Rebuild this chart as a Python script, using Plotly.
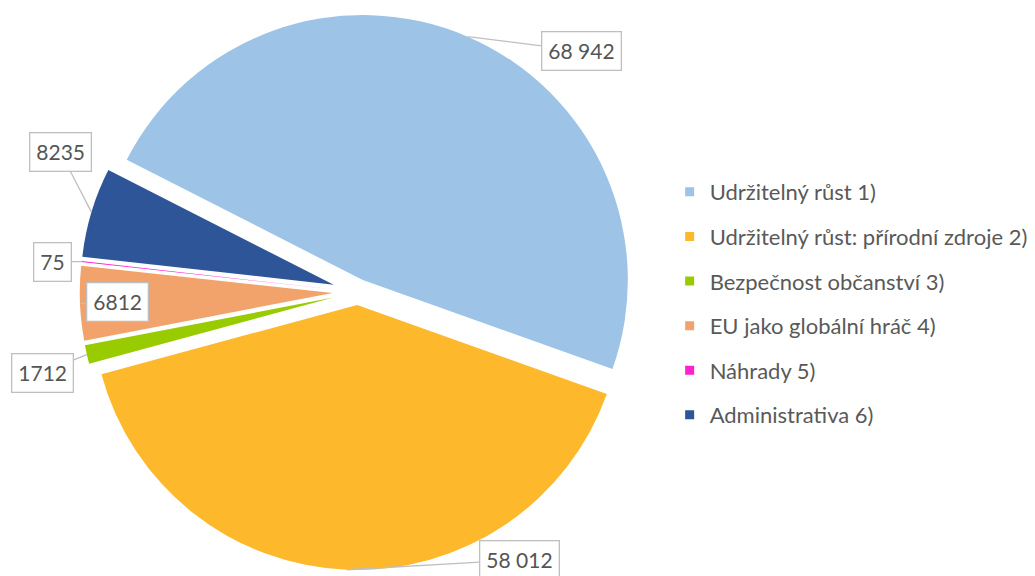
import math
import plotly.graph_objects as go

# ---- data ----
categories = [
    "Udržitelný růst 1)",
    "Udržitelný růst: přírodní zdroje 2)",
    "Bezpečnost občanství 3)",
    "EU jako globální hráč 4)",
    "Náhrady 5)",
    "Administrativa 6)",
]
values = [68942, 58012, 1712, 6812, 75, 8235]

# ---- style ----
colors = ["#9DC3E6", "#FDB82C", "#99CC00", "#F2A36C", "#FF21CF", "#2E5597"]
layer = [0, 0, 1, 1, 1, 1]          # which pie layer draws each slice
layer_pull = [0.049, 0.099]         # explosion per layer (fraction of radius)
label_offsets = [(114, 14), (173, -10), (-44, 18), (38, -1), (-29, 0), (-31, -60)]
ROTATION = -63
W, H = 1035, 576
DOM_X = [0.0770, 0.6142]
DOM_Y = [0.0105, 0.9757]
FONT = "Lato, 'Open Sans', sans-serif"
TRANSPARENT = "rgba(0,0,0,0)"


def fmt(v):
    return f"{v:,}".replace(",", " ") if v >= 10000 else str(v)


fig = go.Figure()
for li, lp in enumerate(layer_pull):
    fig.add_trace(go.Pie(
        labels=categories,
        values=values,
        sort=False,
        direction="clockwise",
        rotation=ROTATION,
        pull=[lp] * len(values),
        marker=dict(colors=[c if l == li else TRANSPARENT for c, l in zip(colors, layer)],
                    line=dict(width=0)),
        textinfo="none",
        hoverinfo="skip" if li else "label+value+percent",
        showlegend=False,
        domain=dict(x=DOM_X, y=DOM_Y),
    ))

# legend entries (one group each so spacing can be set)
for i, (cat, col) in enumerate(zip(categories, colors)):
    fig.add_trace(go.Scatter(
        x=[None], y=[None], mode="markers", name=cat,
        legendgroup=f"g{i}",
        marker=dict(symbol="square", size=9, color=col),
        hoverinfo="skip",
    ))

# geometry of the pie as plotly lays it out (for the data-label callouts)
box_w = W * (DOM_X[1] - DOM_X[0])
box_h = H * (DOM_Y[1] - DOM_Y[0])
cx = W * (DOM_X[0] + DOM_X[1]) / 2
cy = H * (1 - DOM_Y[0]) - box_h / 2
total = sum(values)
start = math.radians(ROTATION)
acc = 0.0
for v, l, (ax, ay) in zip(values, layer, label_offsets):
    p = layer_pull[l]
    r = min(box_w, box_h) / 2 / (1 + p)
    mid = start + 2 * math.pi * (acc + v / 2) / total
    acc += v
    sx, sy = math.sin(mid), -math.cos(mid)
    px = cx + (p + 1) * r * sx
    py = cy + (p + 1) * r * sy
    fig.add_annotation(
        x=px / W, y=1 - py / H, xref="paper", yref="paper",
        text=fmt(v), showarrow=True, arrowhead=0, arrowwidth=1.3,
        arrowcolor="#BFBFBF", ax=ax, ay=ay, standoff=0,
        font=dict(family=FONT, size=21, color="#555555"),
        bgcolor="white", bordercolor="#BFBFBF", borderwidth=1.3, borderpad=6,
    )

fig.update_layout(
    width=W, height=H,
    margin=dict(l=0, r=0, t=0, b=0),
    paper_bgcolor="white", plot_bgcolor="white",
    xaxis=dict(visible=False), yaxis=dict(visible=False),
    legend=dict(
        x=0.647, y=0.703, xanchor="left", yanchor="top",
        font=dict(family=FONT, size=22, color="#595959"),
        tracegroupgap=13, itemwidth=30,
        bgcolor="rgba(0,0,0,0)",
    ),
    showlegend=True,
)

fig.write_html("out.html", config={"displayModeBar": False},
               post_script="document.body.style.margin='0px';")
